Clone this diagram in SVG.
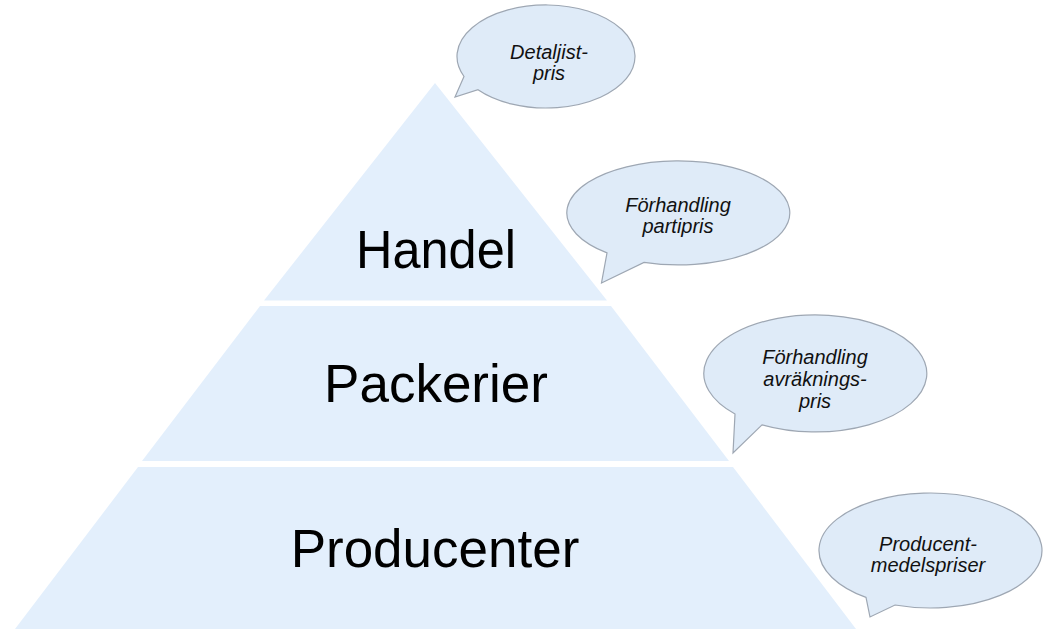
<svg xmlns="http://www.w3.org/2000/svg" width="1044" height="629" viewBox="0 0 1044 629">
  <style>
    .tier { fill: #e3effc; stroke: none; }
    .tier-label { font-family: "Liberation Sans", Arial, sans-serif; font-size: 53px; fill: #000; text-anchor: middle; }
    .bubble { fill: #dfebf8; stroke: #9ea7b3; stroke-width: 1.2; stroke-linejoin: miter; }
    .bubble-label { font-family: "Liberation Sans", Arial, sans-serif; font-size: 20px; font-style: italic; fill: #111; text-anchor: middle; }
  </style>
  <rect width="1044" height="629" fill="#ffffff"/>

  <g id="handel">
    <polygon class="tier" points="435,83 607,300.5 264,300.5"/>
    <text class="tier-label" x="436" y="268" textLength="160" lengthAdjust="spacingAndGlyphs">Handel</text>
  </g>
  <g id="packerier">
    <polygon class="tier" points="260,306 611,306 729,461 142,461"/>
    <text class="tier-label" x="436" y="401.5">Packerier</text>
  </g>
  <g id="producenter">
    <polygon class="tier" points="138,467 733,467 856,629 15,629"/>
    <text class="tier-label" x="435" y="566.5">Producenter</text>
  </g>

  <g id="connectors"></g>

  <g id="bubble-detaljistpris">
    <path class="bubble" d="M464,76.5 L455,97 L478,89.7 A89,51.5 0 1 0 464,76.5 Z"/>
    <text class="bubble-label" x="549" y="58.5">Detaljist-</text>
    <text class="bubble-label" x="549" y="80">pris</text>
  </g>
  <g id="bubble-partipris">
    <path class="bubble" d="M607,252.9 L601.5,283 L644,262.4 A111.5,52 0 1 0 607,252.9 Z"/>
    <text class="bubble-label" x="678" y="211.5">Förhandling</text>
    <text class="bubble-label" x="678" y="233">partipris</text>
  </g>
  <g id="bubble-avrakningspris">
    <path class="bubble" d="M735,414 L733,453 L762,424.8 A111.5,58.5 0 1 0 735,414 Z"/>
    <text class="bubble-label" x="815" y="364">Förhandling</text>
    <text class="bubble-label" x="815" y="386">avräknings-</text>
    <text class="bubble-label" x="815" y="407.5">pris</text>
  </g>
  <g id="bubble-producentmedelspriser">
    <path class="bubble" d="M866,597.4 L870,617 L895,605 A111.5,57.5 0 1 0 866,597.4 Z"/>
    <text class="bubble-label" x="928" y="550.5">Producent-</text>
    <text class="bubble-label" x="928" y="572">medelspriser</text>
  </g>
</svg>
